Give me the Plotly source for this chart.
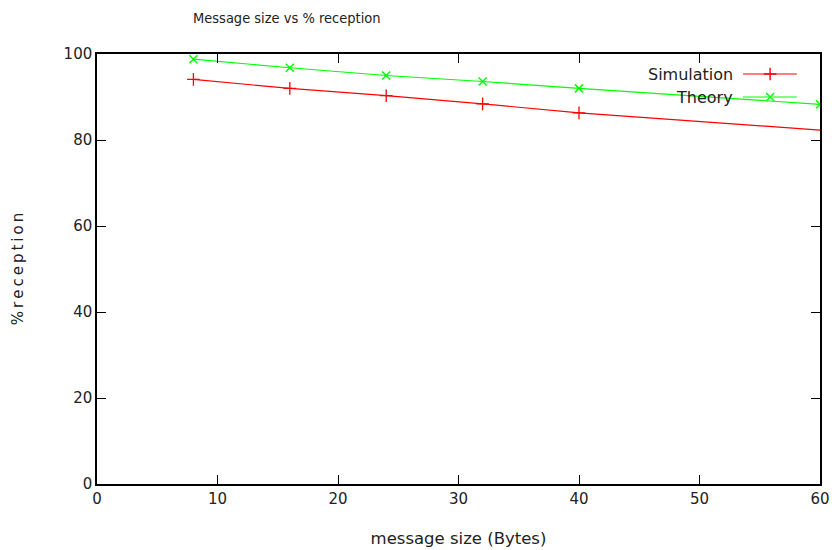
import plotly.graph_objects as go

# Data
sim_x = [8, 16, 24, 32, 40, 64]
sim_y = [94.1, 92.0, 90.3, 88.4, 86.3, 81.5]
theory_x = [8, 16, 24, 32, 40, 60]
theory_y = [98.8, 96.8, 95.0, 93.6, 92.0, 88.3]
x_ticks = [0, 10, 20, 30, 40, 50, 60]
y_ticks = [0, 20, 40, 60, 80, 100]
series_names = ["Simulation", "Theory"]

RED = "#ff0000"
GREEN = "#00ff00"
FONT = "DejaVu Sans"

fig = go.Figure()
fig.add_trace(go.Scatter(x=sim_x, y=sim_y, mode="lines+markers", name=series_names[0],
                         line=dict(color=RED, width=1.2),
                         marker=dict(symbol="cross-thin", size=9, line=dict(color=RED, width=1.3)),
                         showlegend=False, cliponaxis=True))
fig.add_trace(go.Scatter(x=theory_x, y=theory_y, mode="lines+markers", name=series_names[1],
                         line=dict(color=GREEN, width=1.2),
                         marker=dict(symbol="x-thin", size=8, line=dict(color=GREEN, width=1.5)),
                         showlegend=False, cliponaxis=True))

# Manual gnuplot-style legend on an overlay axis (0..1)
leg_rows = [0.9535, 0.90]
colors = [RED, GREEN]
symbols = ["cross-thin", "x-thin"]
for name, yy, c, s in zip(series_names, leg_rows, colors, symbols):
    fig.add_trace(go.Scatter(x=[0.8935, 0.968], y=[yy, yy], mode="lines",
                             line=dict(color=c, width=1.2), xaxis="x2", yaxis="y2",
                             showlegend=False, hoverinfo="skip"))
    fig.add_trace(go.Scatter(x=[0.931], y=[yy], mode="markers",
                             marker=dict(symbol=s, size=9 if s == "cross-thin" else 8,
                                         line=dict(color=c, width=1.4)),
                             xaxis="x2", yaxis="y2", showlegend=False, hoverinfo="skip"))
    fig.add_annotation(x=0.882, y=yy, xref="x2", yref="y2", text=name, showarrow=False,
                       xanchor="right", yanchor="middle",
                       font=dict(family=FONT, size=16, color="#222222"))

axis_common = dict(showgrid=False, zeroline=False, showline=True, linecolor="black",
                   linewidth=1.5, mirror="ticks", ticks="inside", ticklen=9,
                   tickwidth=1.3, tickcolor="black", automargin=False,
                   tickfont=dict(family=FONT, size=15, color="#222222"))

fig.update_layout(
    width=832, height=550,
    margin=dict(l=97, r=12, t=54, b=66),
    paper_bgcolor="white", plot_bgcolor="white",
    xaxis=dict(range=[0, 60], tickvals=x_ticks, ticktext=[str(v) for v in x_ticks],
               title=dict(text="message size (Bytes)", font=dict(family=FONT, size=16.5, color="#222222"),
                          standoff=26),
               **axis_common),
    yaxis=dict(range=[0, 100], tickvals=y_ticks, ticktext=[str(v) for v in y_ticks],
               title=dict(text="%\u2009r\u2009e\u2009c\u2009e\u2009p\u2009t\u2009i\u2009o\u2009n",
                          font=dict(family=FONT, size=15, color="#222222"),
                          standoff=36),
               **axis_common),
    xaxis2=dict(range=[0, 1], overlaying="x", visible=False, fixedrange=True),
    yaxis2=dict(range=[0, 1], overlaying="y", visible=False, fixedrange=True),
    showlegend=False,
)

fig.add_annotation(x=(287 - 97) / 723, y=(484 - 18) / 430, xref="paper", yref="paper",
                   text="Message size vs % reception", showarrow=False,
                   xanchor="center", yanchor="middle",
                   font=dict(family="Liberation Sans Narrow, DejaVu Sans Condensed, DejaVu Sans",
                             size=14.5, color="#222222"))

fig.write_html("out.html")
